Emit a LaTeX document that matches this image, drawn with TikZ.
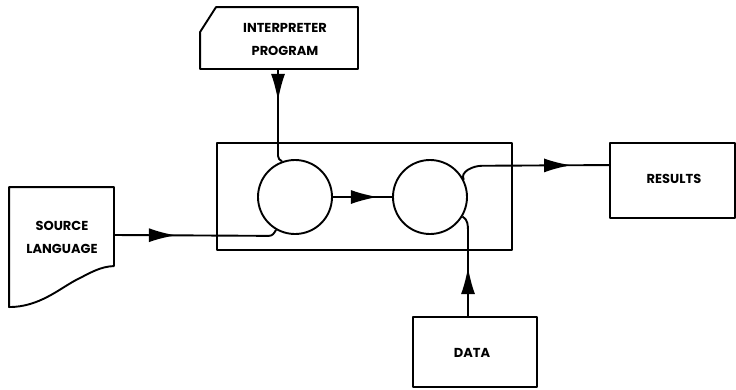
\documentclass[tikz,border=0pt]{standalone}
\usepackage{fontspec}
\setmainfont{Poppins}
\usetikzlibrary{arrows.meta,decorations.markings,calc}
\tikzset{
  x=1pt, y=-1pt,
  every path/.style={line width=1.9pt, line join=round},
  lbl/.style={font=\fontsize{13}{23}\selectfont\bfseries, align=center, inner sep=0pt},
  boxnode/.style={draw, lbl},
  proc/.style={draw, circle, minimum size=74pt, inner sep=0pt},
  tipmark/.style={postaction={decorate}, decoration={markings,
      mark=at position #1 with {\arrow{Latex[length=27pt,width=14pt]}}}},
}
\begin{document}
\begin{tikzpicture}
\useasboundingbox (0,0) rectangle (736,389);

% program card with clipped top-left corner (label sits a little right of centre)
\node[lbl, minimum width=156pt, minimum height=60pt] (ip) at (279,38) {};
\node[lbl] (iptext) at ($(ip.center)+(6,1)$) {INTERPRETER\\PROGRAM};
\draw ($(ip.north west)+(16,0)$) -- (ip.north east) -- (ip.south east)
      -- (ip.south west) -- ($(ip.north west)+(0,25)$) -- cycle;

% source document with wavy lower edge
\node[lbl, minimum width=103pt, minimum height=94pt] (src) at (61.5,235) {};
\node[lbl] (srctext) at (62,237) {SOURCE\\LANGUAGE};
\draw (src.north west) -- (src.north east) -- ($(src.north east)+(0,79)$)
      .. controls ($(src.north east)+(-14,0.5)+(0,79)$) and ($(src.north east)+(-24,86)$) .. ($(src.north east)+(-38,93)$)
      .. controls ($(src.north east)+(-55,102)$) and ($(src.north east)+(-75,120)$) .. ($(src.north west)+(0,120)$)
      -- cycle;

% processor frame with two stages
\node[draw, minimum width=295pt, minimum height=107pt, inner sep=0pt] (sys) at (364.5,196.5) {};
\node[proc] (c1) at (295,197) {};
\node[proc] (c2) at (430,197) {};

% outputs and inputs
\node[draw, minimum width=125pt, minimum height=75pt] (res) at (672.5,180.5) {};
\node[lbl] (restext) at (674,179) {RESULTS};
\node[draw, minimum width=124pt, minimum height=70pt] (data) at (475,352) {};
\node[lbl] (datatext) at (472,353) {DATA};

% connectors
\draw[tipmark=32pt] ($(ip.south)+(-1,0)$) -- ($(ip.south)+(-1,87)$)
      to[out=-90, in=150] (c1.110);
\draw[tipmark=62pt] (src.east) -- ($(c1.240)+(-7,6)$)
      to[out=0, in=-120] (c1.240);
\draw[tipmark=45pt] (c1.east) -- (c2.west);
\draw[tipmark=-38pt] (c2.27) to[out=120, in=180] ($(c2.27)+(18,-14)$)
      -- ($(res.north west)+(0,23)$);
\draw[tipmark=49pt] ($(data.north)+(-7,0)$) -- ($(data.north)+(-7,-85)$)
      to[out=90, in=-30] (c2.-31);
\end{tikzpicture}
\end{document}
